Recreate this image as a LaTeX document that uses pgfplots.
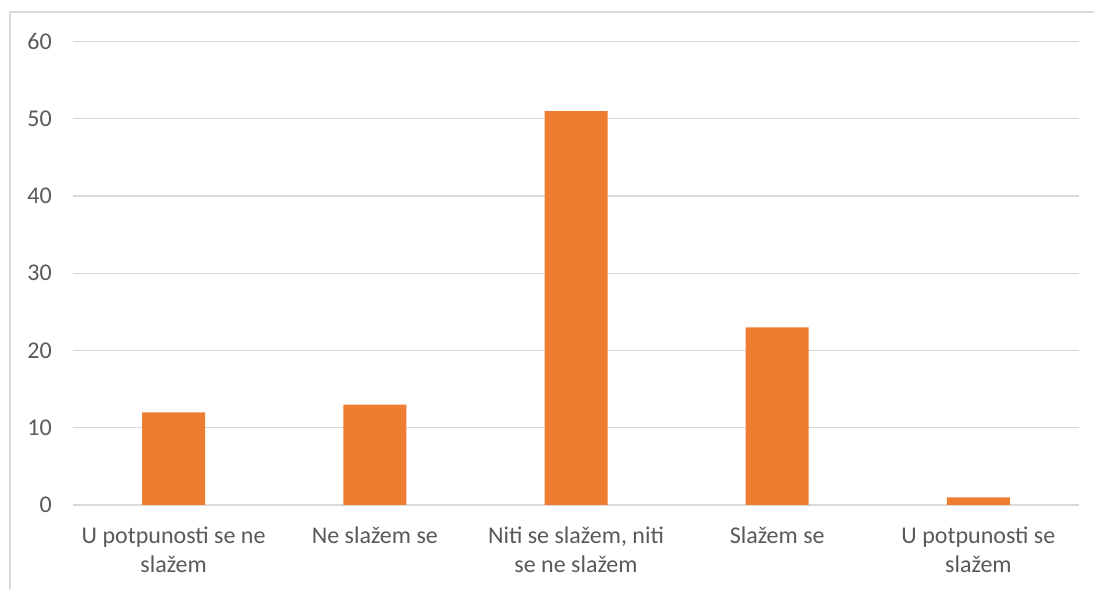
\documentclass[border=0pt]{standalone}
\usepackage{pgfplots}
\pgfplotsset{compat=1.18}
\usepackage{fontspec}
\setmainfont{Carlito}
\definecolor{barc}{HTML}{ED7D31}
\definecolor{gridc}{HTML}{D9D9D9}
\definecolor{txt}{HTML}{595959}
\begin{document}
\begin{tikzpicture}[x=1bp,y=1bp]
\path[use as bounding box] (0,0) rectangle (1094,589);
\draw[gridc, line width=1.2bp] (10,0) -- (10,577) -- (1094,577);
\begin{axis}[
  at={(73bp,84bp)}, anchor=south west,
  scale only axis, width=1006bp, height=463.5bp,
  xmin=-0.5, xmax=4.5, ymin=0, ymax=60,
  axis line style={draw=none},
  ymajorgrids, grid style={gridc, line width=1.2bp},
  major tick length=0pt,
  ytick={0,10,...,60},
  xtick={0,1,2,3,4},
  xticklabels={{U potpunosti se ne\\slažem},{Ne slažem se},{Niti se slažem, niti\\se ne slažem},{Slažem se},{U potpunosti se\\slažem}},
  /pgf/number format/assume math mode=true,
  ticklabel style={font=\fontsize{24bp}{29bp}\selectfont, text=txt, inner sep=0pt},
  yticklabel style={anchor=east, xshift=-21bp},
  xticklabel style={anchor=north, align=center, yshift=-22bp},
  ybar, bar width=63bp,
  clip=false,
]
\addplot[fill=barc, draw=none] coordinates {(0,12) (1,13) (2,51) (3,23) (4,1)};
\end{axis}
\end{tikzpicture}
\end{document}
